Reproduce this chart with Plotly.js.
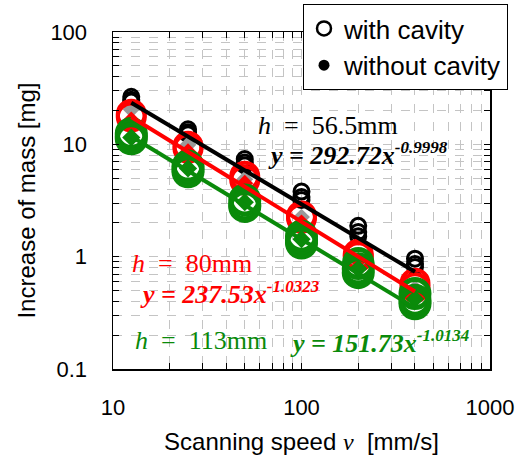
<!DOCTYPE html>
<html><head><meta charset="utf-8">
<script src="https://cdn.plot.ly/plotly-3.0.1.min.js"></script>
<style>body{margin:0;background:#fff}#c{width:521px;height:466px}</style>
</head><body><div id="c"></div>
<script>
// Scanning speeds [mm/s]
const speeds = [12.5, 25, 50, 100, 200, 400];
// h = 56.5 mm, with cavity (repeats)
const h565Cav1 = [26.5, 13.6, 7.4, 3.8, 1.88, 0.96];
const h565Cav2 = [25.0, 12.8, 6.9, 3.4, 1.66, 0.86];
const h565Cav3 = [24.0, 12.3, 6.5, 3.2, 1.52, 0.81];
// h = 56.5 mm, without cavity
const h565NoCav = [20.4, 9.9, 4.9, 2.25, 0.86, 0.52];
// h = 80 mm
const h80Cav1 = [18.5, 9.6, 5.2, 2.3, 1.05, 0.58];
const h80Cav2 = [17.5, 9.2, 4.8, 2.2, 1.0, 0.53];
const h80NoCav = [16.5, 8.6, 4.5, 2.0, 0.92, 0.48];
// h = 113 mm
const h113Cav1 = [12.5, 6.4, 3.2, 1.52, 0.87, 0.47];
const h113Cav2 = [11.8, 6.0, 2.9, 1.40, 0.78, 0.41];
const h113Cav3 = [11.2, 5.7, 2.8, 1.32, 0.72, 0.38];
const h113NoCav = [11.5, 6.1, 3.05, 1.43, 0.78, 0.42];
// Power-law fits y = a * x^b
const fitA = [292.72, 237.53, 151.73];
const fitB = [-0.9998, -1.0323, -1.0134];
const fitLabels = ['<i>h</i>  =  56.5mm', '<i>h</i>  =  80mm', '<i>h</i>  =  113mm'];
// axis ticks
const yTickVals = [], yTickText = [];
[0.1, 1, 10].forEach(d => { for (let k = 1; k <= 9; k++) { yTickVals.push(+(d*k).toPrecision(3)); yTickText.push(k === 1 ? String(d) : ''); } });
yTickVals.push(100); yTickText.push('100');
const xTickVals = [], xTickText = [];
[10, 100].forEach(d => { for (let k = 1; k <= 9; k++) { xTickVals.push(d*k); xTickText.push(k === 1 ? String(d) : ''); } });
xTickVals.push(1000); xTickText.push('1000');

const BLACK = '#000000', RED = '#ff0000', GREEN = '#0a8a0a', GRAY = '#9a9a9a';
const rep = (arr, n) => [].concat(...Array(n).fill(arr));

const traces = [];
function circles(ys, color, size, w) {
  traces.push({x: rep(speeds, ys.length), y: [].concat(...ys), mode: 'markers', type: 'scatter', showlegend: false,
    marker: {symbol: 'circle-open', size: size, color: color, line: {width: w, color: color}}});
}
function diamonds(ys, color, size) {
  traces.push({x: speeds, y: ys, mode: 'markers', type: 'scatter', showlegend: false,
    marker: {symbol: 'diamond', size: size, color: color, line: {width: 0}}});
}
circles([h565Cav1, h565Cav2, h565Cav3], BLACK, 15, 3);
diamonds(h565NoCav, GRAY, 13);
circles([h80Cav1, h80Cav2], RED, 27, 4);
diamonds(h80NoCav, RED, 13);
circles([h113Cav1, h113Cav2, h113Cav3], GREEN, 28, 5);
diamonds(h113NoCav, GREEN, 14);
const colors = [BLACK, RED, GREEN];
fitA.forEach((a, i) => {
  const xs = [speeds[0], speeds[speeds.length-1]];
  traces.push({x: xs, y: xs.map(v => a*Math.pow(v, fitB[i])), mode: 'lines', type: 'scatter', showlegend: false,
    line: {color: colors[i], width: 4}});
});
// legend entries
traces.push({x: [null], y: [null], mode: 'markers', type: 'scatter', name: 'with cavity', legendgroup: 'a',
  marker: {symbol: 'circle-open', size: 14, color: BLACK, line: {width: 2.5, color: BLACK}}});
traces.push({x: [null], y: [null], mode: 'markers', type: 'scatter', name: 'without cavity', legendgroup: 'b',
  marker: {symbol: 'circle', size: 11, color: BLACK}});

const L = 113, R = 490, T = 32, B = 369;
const px = x => (x - L) / (R - L), py = y => (B - y) / (B - T);
const serif = 'Liberation Serif, Times New Roman, serif';
function ann(text, x, y, color, size) {
  return {text: text, xref: 'paper', yref: 'paper', x: px(x), y: py(y), xanchor: 'left', yanchor: 'middle',
    showarrow: false, font: {family: serif, size: size, color: color}};
}
const eq = (a, b) => '<b><i>y = ' + a.toFixed(2) + 'x<sup><span style="font-size:17px">' + b + '</span></sup></i></b>';
const annotations = [
  ann(fitLabels[0], 256, 125, BLACK, 26),
  ann(eq(fitA[0], fitB[0]), 266, 154, BLACK, 26),
  ann(fitLabels[1], 130, 263, RED, 26),
  ann(eq(fitA[1], fitB[1]), 138, 293, RED, 26),
  ann(fitLabels[2], 133, 340, GREEN, 26),
  ann(eq(fitA[2], fitB[2]), 288, 342, GREEN, 26)
];

const axisCommon = {type: 'log', showline: true, linecolor: '#000', linewidth: 1.5, mirror: 'ticks',
  ticks: 'inside', ticklen: 6, tickcolor: '#000', tickmode: 'array', showgrid: true, gridcolor: '#c4c4c4',
  griddash: 'dash', gridwidth: 1, zeroline: false, tickfont: {family: 'Liberation Sans, Arial', size: 22, color: '#000'}};

const layout = {
  width: 521, height: 466, margin: {l: L, r: 521 - R, t: T, b: 466 - B, autoexpand: false},
  paper_bgcolor: '#fff', plot_bgcolor: '#fff', font: {family: 'Liberation Sans, Arial', color: '#000'},
  xaxis: Object.assign({}, axisCommon, {range: [1, 3], tickvals: xTickVals, ticktext: xTickText, ticklabelstandoff: 18,
    title: {text: 'Scanning speed <i style="font-family:Liberation Serif">v</i>  [mm/s]', font: {size: 24}, standoff: 14}}),
  yaxis: Object.assign({}, axisCommon, {range: [-1, 2], tickvals: yTickVals, ticktext: yTickText, ticklabelstandoff: 20,
    title: {text: 'Increase of mass [mg]', font: {size: 24}, standoff: 8}}),
  showlegend: true,
  legend: {x: px(303), y: py(4), xanchor: 'left', yanchor: 'top', bgcolor: '#fff', bordercolor: '#000', borderwidth: 1,
    font: {family: 'Liberation Sans, Arial', size: 26, color: '#000'}, traceorder: 'grouped', tracegroupgap: 0,
    itemwidth: 30},
  annotations: annotations
};
Plotly.newPlot('c', traces, layout, {displayModeBar: false, staticPlot: true});
</script></body></html>
